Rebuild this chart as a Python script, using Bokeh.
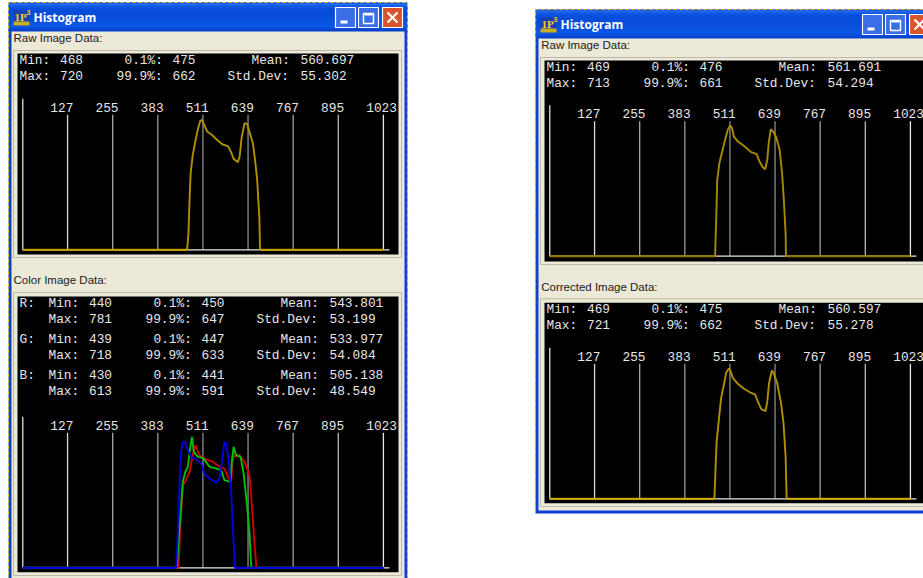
from bokeh.plotting import figure
from bokeh.models import Range1d
from bokeh.core.properties import value
from bokeh.embed import file_html
from bokeh.resources import INLINE

# ---------- data (x: intensity, y: % of tick height) ----------
tick_vals = [127, 255, 383, 511, 639, 767, 895, 1023]
tick_labels = ["127", "255", "383", "511", "639", "767", "895", "1023"]
tick_colors = ["#d8d8d8", "#a8a8a8", "#989898", "#8c8c8c", "#8c8c8c", "#a0a0a0", "#b8b8b8", "#e8e8e8"]

raw1_x = [0, 466, 470, 473, 476, 482, 489, 497, 503, 509, 515, 523, 536, 553, 567, 582, 591, 598, 610, 615, 621, 629, 636, 643, 653, 659, 665, 671, 673, 1023]
raw1_y = [0, 0, 11.9, 36.5, 56.3, 69.9, 79.8, 89.6, 95.3, 96.3, 92.1, 87.7, 85.2, 81, 78, 76.8, 72.3, 67.4, 64.9, 68.6, 83.5, 93.8, 93.3, 87.2, 78.5, 66.2, 51.4, 24.2, 0, 0]

raw2_x = [0, 469, 472, 475, 481, 488, 496, 505, 512, 517, 522, 533, 552, 571, 587, 595, 604, 611, 617, 621, 627, 633, 642, 652, 659, 664, 669, 670, 1023]
raw2_y = [0, 0, 26.6, 56.5, 68.9, 76.4, 85, 93.8, 96.8, 95, 88.8, 85.1, 81.4, 77.1, 75.6, 70.1, 65.9, 64.4, 71.4, 83.8, 94.2, 92.5, 88.3, 78.8, 61.4, 41.5, 16.7, 0, 0]

corr_x = [0, 467, 470, 473, 479, 486, 494, 500, 508, 513, 519, 533, 552, 571, 583, 590, 600, 612, 617, 622, 630, 635, 645, 656, 663, 669, 672, 1023]
corr_y = [0, 0, 21.1, 41, 57.2, 74.6, 84.6, 93.3, 96.5, 94.5, 89.6, 85.3, 81.3, 78.4, 77.1, 72.1, 66.4, 64.9, 72.1, 85.8, 95, 93.3, 85.8, 70.9, 56, 31.1, 0, 0]

blue_x = [0, 435, 440, 445, 449, 454, 459, 468, 478, 492, 506, 515, 530, 549, 558, 565, 572, 577, 584, 591, 596, 602, 1023]
blue_y = [0, 0, 26.5, 63.6, 85.9, 93.3, 93.3, 87.1, 82.2, 80.2, 77.2, 69.8, 66.1, 63.1, 66.1, 78.5, 93.3, 92.1, 78.5, 58.7, 29, 0, 0]

green_x = [0, 437, 445, 454, 461, 468, 476, 480, 485, 497, 511, 530, 549, 563, 572, 589, 593, 598, 605, 618, 627, 636, 643, 648, 1023]
green_y = [0, 0, 31.4, 63.6, 71, 74.8, 90.8, 97, 85.9, 82.2, 81.4, 74.8, 73.5, 72.3, 64.9, 63.6, 78.5, 89.6, 83.4, 82.2, 68.6, 46.3, 26.5, 0, 0]

red_x = [0, 442, 446, 454, 463, 473, 482, 490, 501, 520, 539, 558, 572, 584, 591, 596, 615, 629, 643, 650, 657, 663, 1023]
red_y = [0, 0, 26.5, 61.1, 64.9, 71, 83.4, 90.8, 83.4, 80.4, 78.5, 74.8, 73.5, 66.1, 63.6, 82.2, 83.4, 78.5, 68.6, 46.3, 19.1, 0, 0]

raw1_stats = ["468", "475", "560.697", "720", "662", "55.302"]
raw2_stats = ["469", "476", "561.691", "713", "661", "54.294"]
corr_stats = ["469", "475", "560.597", "721", "662", "55.278"]
r_stats = ["440", "450", "543.801", "781", "647", "53.199"]
g_stats = ["439", "447", "533.977", "718", "633", "54.084"]
b_stats = ["430", "441", "505.138", "613", "591", "48.549"]

W, H = 923, 578
MONO = value("Liberation Mono")
MONO_SIZE = "12.8px"
TXT = "#e6e6e6"

p = figure(width=W, height=H, x_range=Range1d(0, W), y_range=Range1d(H, 0),
           x_axis_location=None, y_axis_location=None, toolbar_location=None,
           output_backend="svg", min_border=0, outline_line_color=None,
           background_fill_color="white", border_fill_color="white")
p.grid.visible = False

TITLE = ["#0a4fd8", "#2f7df2", "#2a78f0", "#1666ea", "#0f5fe6", "#0a58e2", "#0855de", "#0754dc",
         "#0652da", "#0652da", "#0652da", "#0652da", "#0753dc", "#0753dc", "#0754dc", "#0855de",
         "#0855de", "#0957e0", "#0957e0", "#0a58e2", "#0a5ae4", "#0a5ce6", "#0b5ee8", "#0b60ea",
         "#0a5ce6", "#0a56e0", "#084ed6", "#0646cc", "#0540c4"]


def box(l, r, t, b, color, line=None):
    p.quad(left=[l], right=[r], top=[t], bottom=[b], fill_color=color,
           line_color=line if line else None, line_width=1)


def window(dx, top, bottom, edge):
    left, right = 8 + dx, 407 + dx
    box(left, right, top, bottom, "#0a3fd8")
    for i, c in enumerate(TITLE):
        box(left + (1 if i < 2 else 0), right - (1 if i < 2 else 0), top + i, top + i + 1, c)
    box(left + 3, right - 3, top + 29, bottom - 3, "#ece9d8")
    # marquee selection edge
    xs = [left, left, right, right]
    ys = [bottom, top, top, bottom]
    p.line(xs, ys, line_color=edge, line_width=1.2, line_dash="3 3")
    # icon
    ty = top + 16
    box(13 + dx, 29 + dx, ty - 8, ty + 7, "#1c3fb0")
    box(13 + dx, 29 + dx, ty + 3, ty + 7, "#c8b020")
    p.text([14 + dx], [ty - 2], ["1P"], text_font=value("Liberation Serif"), text_font_style="bold",
           text_font_size="11px", text_color="#f4d020", text_baseline="alphabetic")
    p.text([26 + dx], [ty - 6], ["3"], text_font=value("Liberation Sans"), text_font_style="bold",
           text_font_size="7px", text_color="#f4d020", text_baseline="alphabetic")
    p.text([33 + dx], [top + 15], ["Histogram"], text_font=value("Open Sans"), text_font_style="bold",
           text_font_size="12px", text_color="white", text_baseline="alphabetic")
    # caption buttons
    by0, by1 = top + 5, top + 25
    for (bl, col) in [(335, "#3a6ee6"), (358, "#3a6ee6"), (382, "#d8552e")]:
        p.quad(left=[bl + dx], right=[bl + 20 + dx], top=[by0], bottom=[by1], fill_color=col,
               line_color="white", line_width=1.2, line_join="round")
    box(340 + dx, 347 + dx, top + 18, top + 21, "white")
    p.quad(left=[363 + dx], right=[373 + dx], top=[top + 11], bottom=[top + 21], fill_color=None,
           line_color="white", line_width=1.5)
    p.line([364 + dx, 372 + dx], [top + 12, top + 12], line_color="white", line_width=2)
    p.segment(x0=[387 + dx, 397 + dx], y0=[top + 10, top + 10], x1=[397 + dx, 387 + dx], y1=[top + 20, top + 20],
              line_color="white", line_width=2.2)


def stat_rows(v, dx, y1, y2, x_off=0):
    # words and numbers are drawn as separate texts; numbers sit 1px higher to share a visual baseline
    words = [(19, y1, "Min:"), (124, y1, "0.1%:"), (251, y1, "Mean:"),
             (19, y2, "Max:"), (116, y2, "99.9%:"), (227, y2, "Std.Dev:")]
    nums = [(59.5, y1, v[0]), (172, y1, v[1]), (300, y1, v[2]),
            (59.5, y2, v[3]), (172, y2, v[4]), (300, y2, v[5])]
    p.text([a + dx + x_off for a, _, _ in words], [b for _, b, _ in words], [c for _, _, c in words],
           text_font=MONO, text_font_size=MONO_SIZE, text_color=TXT, text_baseline="alphabetic")
    p.text([a + dx + x_off for a, _, _ in nums], [b - 1 for _, b, _ in nums], [c for _, _, c in nums],
           text_font=MONO, text_font_size=MONO_SIZE, text_color=TXT, text_baseline="alphabetic")


def panel(name, dx, frame_t, black_t, black_b, frame_b, base_px, series):
    # frame and black field
    p.quad(left=[13 + dx], right=[401 + dx], top=[frame_t], bottom=[frame_b], fill_color=None,
           line_color="#bdb9a8", line_width=1)
    box(17 + dx, 398 + dx, black_t, black_b, "black")
    # scales of this panel
    x0 = 22.3 + dx
    sx = 0.3525
    ky = 1.35
    p.extra_x_ranges[name] = Range1d(-x0 / sx, (W - x0) / sx)
    p.extra_y_ranges[name] = Range1d((base_px - H) / ky, base_px / ky)
    kw = dict(x_range_name=name, y_range_name=name)
    p.segment(x0=tick_vals, y0=[0] * 8, x1=tick_vals, y1=[100] * 8, line_color=tick_colors, line_width=1.3, **kw)
    p.line([0, 0], [0, 111.8], line_color="#f0f0f0", line_width=1.2, **kw)
    p.line([0, 1040], [0, 0], line_color="#e8e8e8", line_width=1.2, **kw)
    p.text(tick_vals, [105.7] * 8, tick_labels, x_offset=-17.2, text_font=MONO, text_font_size=MONO_SIZE,
           text_color=TXT, text_baseline="alphabetic", **kw)
    for xs, ys, col, bcol in series:
        p.line(xs, ys, line_color=col, line_width=1.9, **kw)
        p.line(xs[:2], ys[:2], line_color=bcol, line_width=1.3, **kw)
        p.line(xs[-2:], ys[-2:], line_color=bcol, line_width=1.3, **kw)


def label(x, y, t):
    p.text([x], [y - 1], [t], text_font=value("Liberation Sans"), text_font_size="11.5px", text_color="#202020",
           text_baseline="alphabetic")


# left window
window(0, 2, 592, "#e8c820")
label(13, 38, "Raw Image Data:")
panel("raw1", 0, 50, 53, 254, 257, 249.3, [(raw1_x, raw1_y, "#b09000", "#cfa800")])
stat_rows(raw1_stats, 0, 60, 76)

label(13, 280, "Color Image Data:")
panel("col", 0, 292, 296, 571.7, 575, 567.3,
      [(red_x, red_y, "#d00000", "#d00000"), (green_x, green_y, "#00c000", "#00c000"),
       (blue_x, blue_y, "#0000e0", "#0000e0")])
for values, letter, y1, y2 in [(r_stats, "R:", 302.7, 318.7), (g_stats, "G:", 338.7, 355), (b_stats, "B:", 375, 391)]:
    p.text([19], [y1], [letter], text_font=MONO, text_font_size=MONO_SIZE, text_color=TXT, text_baseline="alphabetic")
    stat_rows(values, 0, y1, y2, x_off=29)

# right window
window(527, 9, 513, "#f0b020")
label(540.7, 45, "Raw Image Data:")
panel("raw2", 527, 57, 60, 261, 264, 255.7, [(raw2_x, raw2_y, "#a88a00", "#8a7000")])
stat_rows(raw2_stats, 527, 66.7, 82.7)

label(540.7, 287, "Corrected Image Data:")
panel("corr", 527, 298.3, 302.3, 502.7, 506, 498.3, [(corr_x, corr_y, "#b09000", "#e0b000")])
stat_rows(corr_stats, 527, 309.3, 325.3)

open("out.html", "w").write(file_html(p, INLINE))
